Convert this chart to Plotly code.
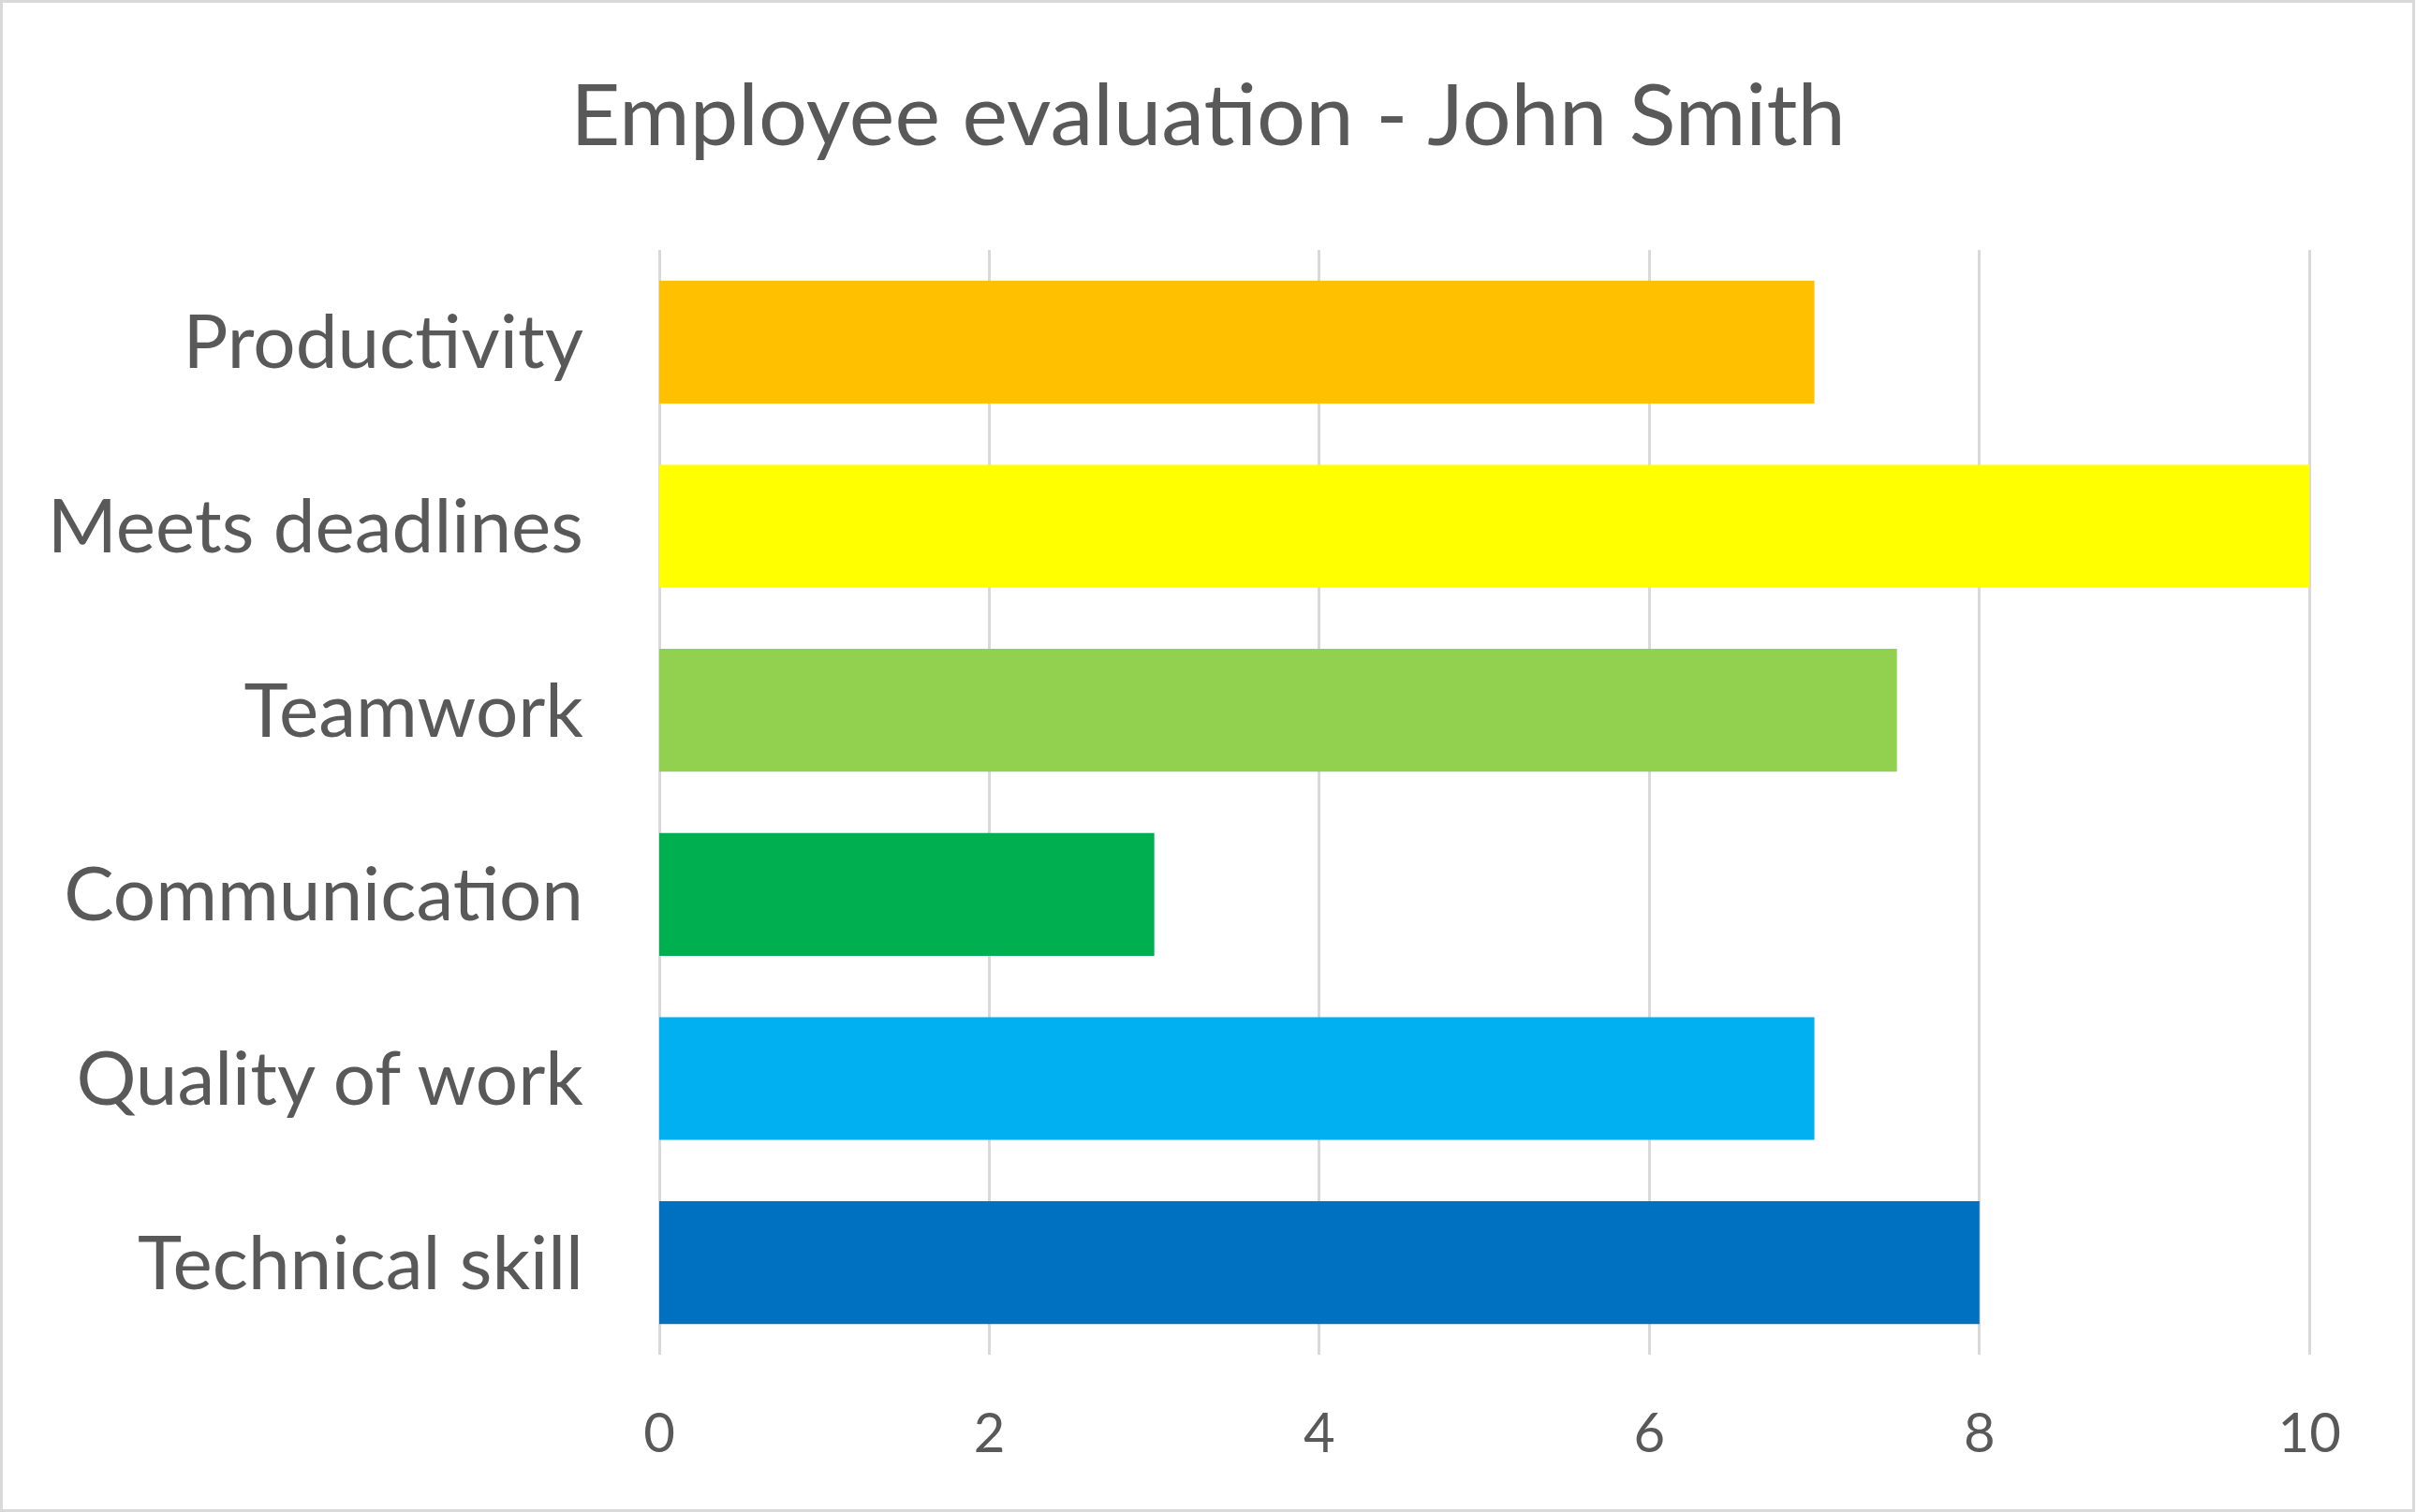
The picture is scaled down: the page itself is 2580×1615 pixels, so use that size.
# Employee evaluation bar chart (horizontal bars, Excel-style)

import plotly.graph_objects as go

# Categories listed top to bottom as shown in the chart
categories = ['Productivity', 'Meets deadlines', 'Teamwork',
              'Communication', 'Quality of work', 'Technical skill']
scores = [7, 10, 7.5, 3, 7, 8]
bar_colors = ['#FFC000', '#FFFF00', '#92D050', '#00B050', '#00B0F0', '#0070C0']
x_ticks = [0, 2, 4, 6, 8, 10]

W, H = 2580, 1615
M_L, M_R, M_T, M_B = 704, 112, 267, 168
TEXT = '#595959'
GRID = '#D9D9D9'
FONT = 'Lato'

fig = go.Figure()

fig.add_trace(go.Bar(
    x=scores,
    y=categories,
    orientation='h',
    marker=dict(color=bar_colors, line=dict(width=0)),
    width=0.667,
    showlegend=False,
))

fig.update_layout(
    width=W,
    height=H,
    margin=dict(l=M_L, r=M_R, t=M_T, b=M_B, pad=0),
    paper_bgcolor='white',
    plot_bgcolor='white',
    font=dict(family=FONT, color=TEXT),
    title=dict(
        text='Employee evaluation - John Smith',
        font=dict(family=FONT, size=92, color=TEXT),
        x=0.5, xanchor='center',
        y=1 - 123 / H, yanchor='middle',
    ),
)

# a little past 10 so the last gridline is still drawn
fig.update_xaxes(
    range=[0, 10.01],
    tickvals=x_ticks,
    showgrid=True,
    gridcolor=GRID,
    gridwidth=3,
    zeroline=True,
    zerolinecolor=GRID,
    zerolinewidth=3,
    showline=False,
    ticks='',
    tickfont=dict(family=FONT, size=58, color=TEXT),
    ticklabelstandoff=45,
)

fig.update_yaxes(
    autorange='reversed',
    showgrid=False,
    showline=False,
    ticks='',
    tickfont=dict(family=FONT, size=80, color=TEXT),
    ticklabelstandoff=80,
)

# Light grey border around the whole chart area
pw = W - M_L - M_R
ph = H - M_T - M_B
fig.add_shape(
    type='rect', xref='paper', yref='paper',
    x0=(1.5 - M_L) / pw, x1=(W - 2.5 - M_L) / pw,
    y0=(1.5 - M_B) / ph, y1=(H - 1.5 - M_B) / ph,
    line=dict(color=GRID, width=3),
    fillcolor='rgba(0,0,0,0)',
    layer='above',
)

# drop the default page margin so the chart sits at the window's corner
fig.write_html("out.html", config={'displayModeBar': False},
               post_script="document.body.style.margin='0';")
